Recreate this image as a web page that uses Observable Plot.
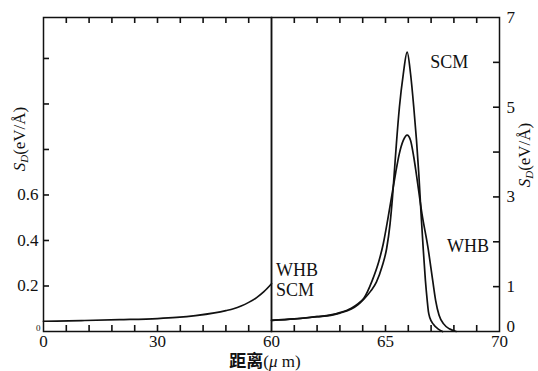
<!DOCTYPE html>
<html><head><meta charset="utf-8">
<script src="https://cdn.jsdelivr.net/npm/d3@7"></script>
<script src="https://cdn.jsdelivr.net/npm/@observablehq/plot@0.6"></script>
<style>
body{margin:0;background:#fff;}
#wrap{position:relative;width:538px;height:371px;overflow:hidden;font-family:"Liberation Serif",serif;color:#111;}
#wrap svg{position:absolute;top:0;overflow:visible;font-family:"Liberation Serif",serif;font-size:17px;color:#111;}
.lab{position:absolute;white-space:nowrap;font-size:17px;line-height:20px;text-align:center;}
.lab sub{font-size:11px;vertical-align:-3px;}
</style></head><body><div id="wrap"></div>
<script>
// Left panel (0–60 µm), left axis units
const leftX  = [0, 10, 20, 30, 35, 40, 45, 48, 50, 52, 54, 56, 58, 60];
const leftSD = [0.045, 0.048, 0.052, 0.057, 0.062, 0.07, 0.082, 0.092, 0.1, 0.112, 0.128, 0.148, 0.175, 0.21];

// Right panel (60–70 µm), right axis units
const whbX  = [60, 61, 62, 62.6, 63, 63.5, 63.8, 64.05, 64.42, 64.7, 64.9, 65.1, 65.3, 65.45, 65.6, 65.78, 65.95, 66.1, 66.24, 66.35, 66.6, 66.86, 67.07, 67.2, 67.35, 67.55, 67.8, 68.1];
const whbSD = [0.25, 0.28, 0.33, 0.37, 0.42, 0.52, 0.62, 0.74, 1.14, 1.55, 1.95, 2.5, 3.1, 3.55, 3.95, 4.26, 4.38, 4.26, 3.89, 3.52, 2.62, 1.88, 1.14, 0.69, 0.36, 0.17, 0.06, 0];
const scmX  = [60, 61, 62, 62.6, 63, 63.5, 63.8, 64.05, 64.35, 64.6, 64.85, 65.05, 65.2, 65.3, 65.38, 65.48, 65.61, 65.78, 65.95, 66.1, 66.24, 66.36, 66.46, 66.56, 66.65, 66.75, 66.83, 66.88, 66.95, 67.1, 67.3, 67.5];
const scmSD = [0.25, 0.28, 0.33, 0.36, 0.41, 0.5, 0.6, 0.72, 0.9, 1.1, 1.45, 1.85, 2.4, 2.95, 3.5, 4.2, 5.0, 5.74, 6.23, 5.74, 5.0, 4.26, 3.52, 2.62, 1.88, 1.14, 0.69, 0.45, 0.3, 0.16, 0.06, 0];

// Tick values / labels
const leftXLabels  = [0, 30, 60];
const leftXMinor   = [6, 12, 18, 24, 30, 36, 42, 48, 54];
const leftYLabels  = [0.2, 0.4, 0.6];
const leftYMinor   = [0.2, 0.4, 0.6, 0.8, 1.0, 1.2];
const rightXLabels = [65, 70];
const rightXMinor  = [61, 62, 63, 64, 65, 66, 67, 68, 69];
const rightYLabels = [1, 3, 5, 7];
const rightYMinor  = [1, 2, 3, 4, 5, 6];

// Curve annotations (text, x, y in right-panel units)
const noteText = ["SCM", "WHB", "WHB", "SCM"];
const noteX    = [67.8, 68.62, 60.2, 60.2];
const noteY    = [6.0, 1.91, 1.36, 0.93];

const leftData  = leftX.map((x, i) => ({x, y: leftSD[i]}));
const whbData   = whbX.map((x, i) => ({x, y: whbSD[i]}));
const scmData   = scmX.map((x, i) => ({x, y: scmSD[i]}));
const notes     = noteText.map((t, i) => ({t, x: noteX[i], y: noteY[i]}));

const ink = "#111";
const fmt = d3.format("");
const TL = 6;                 // inward tick length (px)
const H = 371, MT = 17, MB = 40, frameH = H - MT - MB;
const LW = 272, LML = 43, LMR = 1, RW = 268, RML = 1, RMR = 39;
const tk = {stroke: ink, strokeWidth: 1.6};

const left = Plot.plot({
  width: LW, height: H,
  marginLeft: LML, marginRight: LMR, marginTop: MT, marginBottom: MB,
  x: {domain: [0, 60]},
  y: {domain: [0, 1.38]},
  marks: [
    Plot.axisX({anchor: "bottom", ticks: leftXLabels, tickSize: 0, tickPadding: 3, tickFormat: fmt, label: null}),
    Plot.axisY({anchor: "left", ticks: leftYLabels, tickSize: 0, tickPadding: 5, tickFormat: fmt, label: null}),
    Plot.axisY({anchor: "left", ticks: [0], tickSize: 0, tickPadding: 3, tickFormat: fmt, fontSize: 9, label: null, dy: -3}),
    Plot.tickX(leftXMinor, {x: d => d, insetTop: frameH - TL, ...tk}),
    Plot.tickX(leftXMinor, {x: d => d, insetBottom: frameH - TL, ...tk}),
    Plot.tickY(leftYMinor, {y: d => d, insetRight: (LW - LML - LMR) - TL, ...tk}),
    Plot.line(leftData, {x: "x", y: "y", curve: "monotone-x", stroke: ink, strokeWidth: 1.7}),
    Plot.frame({stroke: ink, strokeWidth: 1.5})
  ]
});
left.style.left = "0px";

const right = Plot.plot({
  width: RW, height: H,
  marginLeft: RML, marginRight: RMR, marginTop: MT, marginBottom: MB,
  x: {domain: [60, 70]},
  y: {domain: [0, 7]},
  marks: [
    Plot.axisX({anchor: "bottom", ticks: rightXLabels, tickSize: 0, tickPadding: 3, tickFormat: fmt, label: null}),
    Plot.axisY({anchor: "right", ticks: rightYLabels, tickSize: 0, tickPadding: 7, tickFormat: fmt, label: null}),
    Plot.axisY({anchor: "right", ticks: [0], tickSize: 0, tickPadding: 7, tickFormat: fmt, label: null, dy: -5}),
    Plot.tickX(rightXMinor, {x: d => d, insetTop: frameH - TL, ...tk}),
    Plot.tickX(rightXMinor, {x: d => d, insetBottom: frameH - TL, ...tk}),
    Plot.tickY(rightYMinor, {y: d => d, insetLeft: (RW - RML - RMR) - TL, ...tk}),
    Plot.line(whbData, {x: "x", y: "y", curve: "monotone-x", stroke: ink, strokeWidth: 1.7}),
    Plot.line(scmData, {x: "x", y: "y", curve: "monotone-x", stroke: ink, strokeWidth: 1.7}),
    Plot.text(notes.slice(0, 2), {x: "x", y: "y", text: "t", textAnchor: "middle", fontSize: 18, fill: ink}),
    Plot.text(notes.slice(2), {x: "x", y: "y", text: "t", textAnchor: "start", fontSize: 18, fill: ink}),
    Plot.frame({stroke: ink, strokeWidth: 1.5})
  ]
});
right.style.left = "270px";

const wrap = document.getElementById("wrap");
wrap.append(left, right);

function addLabel(html, cx, cy, w, rot) {
  const d = document.createElement("div");
  d.className = "lab";
  d.innerHTML = html;
  d.style.width = w + "px";
  d.style.left = (cx - w / 2) + "px";
  d.style.top = (cy - 10) + "px";
  if (rot) d.style.transform = "rotate(-90deg)";
  wrap.append(d);
}
const yLab = '<i>S</i><sub><i>D</i></sub>(eV/Å)';
addLabel(yLab, 22, 137, 100, true);
addLabel(yLab, 527, 153, 100, true);
addLabel('<span style="font-family:\'Noto Sans CJK SC\';font-weight:700;font-size:17px">距离</span>(<i>μ</i> m)', 265, 360, 120, false);
</script></body></html>
